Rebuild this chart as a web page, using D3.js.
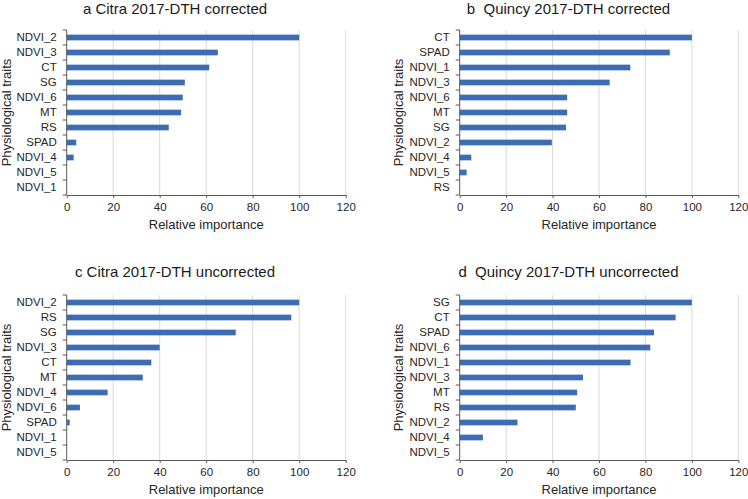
<!DOCTYPE html>
<html>
<head>
<meta charset="utf-8">
<script src="https://cdn.jsdelivr.net/npm/d3@7"></script>
<style>
  html, body { margin: 0; padding: 0; background: #fff; }
  svg { display: block; font-family: "Liberation Sans", Arial, sans-serif; }
</style>
</head>
<body>
<svg id="chart" width="748" height="499"></svg>
<script>
// ---- Data ----
const titleA = "a Citra 2017-DTH corrected";
const traitsA = ["NDVI_2", "NDVI_3", "CT", "SG", "NDVI_6", "MT", "RS", "SPAD", "NDVI_4", "NDVI_5", "NDVI_1"];
const valuesA = [100, 65, 61.3, 50.8, 49.9, 49.2, 43.9, 4.1, 3.0, 0, 0];

const titleB = "b\u00a0\u00a0Quincy 2017-DTH corrected";
const traitsB = ["CT", "SPAD", "NDVI_1", "NDVI_3", "NDVI_6", "MT", "SG", "NDVI_2", "NDVI_4", "NDVI_5", "RS"];
const valuesB = [100, 90.5, 73.5, 64.6, 46.3, 46.3, 45.8, 39.7, 5.0, 3.0, 0];

const titleC = "c Citra 2017-DTH uncorrected";
const traitsC = ["NDVI_2", "RS", "SG", "NDVI_3", "CT", "MT", "NDVI_4", "NDVI_6", "SPAD", "NDVI_1", "NDVI_5"];
const valuesC = [100, 96.6, 72.7, 40.0, 36.4, 32.7, 17.6, 5.7, 1.3, 0, 0];

const titleD = "d\u00a0\u00a0Quincy 2017-DTH uncorrected";
const traitsD = ["SG", "CT", "SPAD", "NDVI_6", "NDVI_1", "NDVI_3", "MT", "RS", "NDVI_2", "NDVI_4", "NDVI_5"];
const valuesD = [100, 93.0, 83.7, 82.1, 73.6, 53.1, 50.6, 50.0, 24.9, 10.0, 0];

const xTicks = [0, 20, 40, 60, 80, 100, 120];
const xLabel = "Relative importance";
const yLabel = "Physiological traits";

// ---- Drawing ----
const svg = d3.select("#chart");
const barColor = "#3c6db4";
const gridColor = "#d9d9d9";
const axisColor = "#595959";
const textColor = "#262626";

function panel(cfg) {
  const { title, traits, values, left, right, top, bottom, titleX, titleY, yTitleX } = cfg;
  const g = svg.append("g");
  const x = d3.scaleLinear().domain([0, 120]).range([left, right]);
  const y = d3.scaleBand().domain(traits).range([top, bottom]).paddingInner(0.62).paddingOuter(0.31);
  const yb = d3.scaleBand().domain(traits).range([top, bottom]);

  // gridlines
  g.append("g").selectAll("line").data(xTicks.filter(d => d > 0)).join("line")
    .attr("x1", d => x(d)).attr("x2", d => x(d))
    .attr("y1", top).attr("y2", bottom)
    .attr("stroke", gridColor).attr("stroke-width", 1);

  // bars
  g.append("g").selectAll("rect").data(traits.map((t, i) => ({ t, v: values[i] }))).join("rect")
    .attr("x", x(0))
    .attr("y", d => y(d.t))
    .attr("width", d => x(d.v) - x(0))
    .attr("height", y.bandwidth())
    .attr("fill", barColor);

  // x axis
  const xa = g.append("g").attr("transform", `translate(0,${bottom})`)
    .call(d3.axisBottom(x).tickValues(xTicks).tickSize(3).tickSizeOuter(0).tickPadding(5));
  xa.select(".domain").attr("stroke", axisColor);
  xa.selectAll(".tick line").attr("stroke", axisColor);
  xa.selectAll("text").attr("fill", textColor).style("font-size", "11.5px");

  // y axis
  const ya = g.append("g").attr("transform", `translate(${left},0)`)
    .call(d3.axisLeft(y).tickSize(0).tickPadding(10));
  ya.select(".domain").remove();
  ya.selectAll("text").attr("fill", textColor).style("font-size", "11.5px");
  // y axis line
  g.append("line").attr("x1", left).attr("x2", left).attr("y1", top).attr("y2", bottom)
    .attr("stroke", axisColor);
  // band boundary ticks
  const bounds = traits.map(t => yb(t)).concat([bottom]);
  g.append("g").selectAll("line").data(bounds).join("line")
    .attr("x1", left - 4).attr("x2", left)
    .attr("y1", d => d).attr("y2", d => d)
    .attr("stroke", axisColor);

  // titles
  g.append("text").attr("x", titleX).attr("y", titleY)
    .attr("text-anchor", "middle").attr("fill", "#1a1a1a")
    .style("font-size", "15px").text(title);
  g.append("text").attr("x", (left + right) / 2).attr("y", bottom + 34)
    .attr("text-anchor", "middle").attr("fill", textColor)
    .style("font-size", "13px").text(xLabel);
  g.append("text")
    .attr("transform", `translate(${yTitleX},${(top + bottom) / 2}) rotate(-90)`)
    .attr("text-anchor", "middle").attr("fill", textColor)
    .style("font-size", "13px").text(yLabel);
}

panel({ title: titleA, traits: traitsA, values: valuesA, left: 66.7, right: 345.7, top: 30, bottom: 195, titleX: 175, titleY: 14, yTitleX: 11 });
panel({ title: titleB, traits: traitsB, values: valuesB, left: 459.7, right: 738.3, top: 30, bottom: 195, titleX: 568.5, titleY: 14, yTitleX: 403 });
panel({ title: titleC, traits: traitsC, values: valuesC, left: 66.7, right: 345.7, top: 295, bottom: 460, titleX: 175, titleY: 277, yTitleX: 11 });
panel({ title: titleD, traits: traitsD, values: valuesD, left: 459.7, right: 738.3, top: 295, bottom: 460, titleX: 568.5, titleY: 277, yTitleX: 403 });
</script>
</body>
</html>
